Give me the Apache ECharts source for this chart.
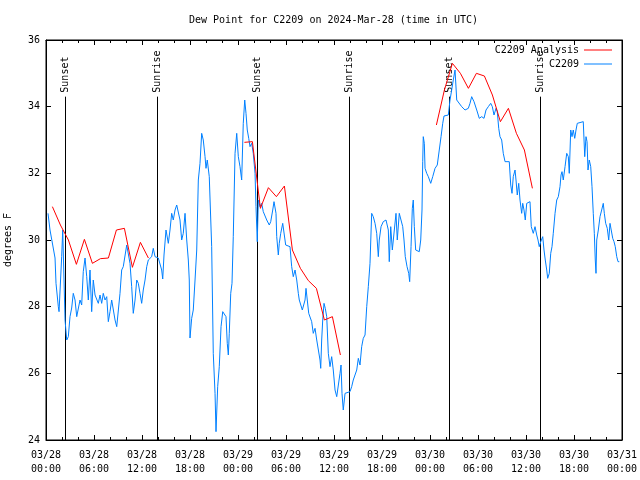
<!DOCTYPE html>
<html><head><meta charset="utf-8">
<script src="https://cdn.jsdelivr.net/npm/echarts@6/dist/echarts.min.js"></script>
<style>html,body{margin:0;padding:0;background:#fff}#c{width:640px;height:480px}</style>
</head><body><div id="c"></div>
<script>
const FONT = 'DejaVu Sans Mono';
const titleText = 'Dew Point for C2209 on 2024-Mar-28 (time in UTC)';
const xTickLabels = ['03/28\n00:00','03/28\n06:00','03/28\n12:00','03/28\n18:00','03/29\n00:00','03/29\n06:00','03/29\n12:00','03/29\n18:00','03/30\n00:00','03/30\n06:00','03/30\n12:00','03/30\n18:00','03/31\n00:00'];

// hours since 2024-03-28 00:00 UTC
const blueHours = [
0.25,0.5,1.13,1.25,1.54,1.63,1.96,2.09,2.25,2.38,
2.59,2.79,3.0,3.21,3.41,3.63,3.84,4.04,4.25,4.46,
4.66,4.88,5.09,5.29,5.5,5.71,5.91,6.13,6.34,6.54,
6.75,6.96,7.16,7.38,7.59,7.79,8.0,8.21,8.41,8.63,
8.84,9.04,9.25,9.46,9.66,9.88,10.09,10.29,10.5,10.71,
10.91,11.13,11.34,11.54,11.75,11.96,12.16,12.38,12.59,12.79,
13.0,13.21,13.41,13.63,14.04,14.25,14.46,14.59,14.75,15.0,
15.29,15.5,15.71,15.91,16.13,16.34,16.54,16.75,16.96,17.16,
17.38,17.59,17.79,17.91,18.0,18.21,18.41,18.63,18.84,19.04,
19.25,19.46,19.66,19.88,20.0,20.16,20.41,20.71,20.91,21.13,
21.25,21.46,21.66,21.88,22.09,22.29,22.5,22.66,22.79,22.91,
23.09,23.25,23.41,23.63,23.84,24.04,24.25,24.46,24.66,24.84,
25.0,25.16,25.34,25.5,25.71,25.91,26.13,26.25,26.41,26.54,
26.75,26.96,27.16,27.59,27.91,28.09,28.34,28.5,28.75,28.84,
29.04,29.16,29.34,29.59,29.79,29.96,30.16,30.5,30.71,30.91,
31.13,31.34,31.54,31.66,31.84,32.04,32.25,32.38,32.5,32.66,
32.84,33.0,33.21,33.41,33.63,33.84,34.04,34.25,34.34,34.46,
34.59,34.75,34.91,35.09,35.29,35.5,35.71,35.91,36.13,36.34,
36.54,36.75,36.88,37.0,37.16,37.38,37.59,38.0,38.21,38.41,
38.63,38.84,39.04,39.25,39.46,39.66,39.88,40.09,40.29,40.5,
40.71,40.91,41.13,41.34,41.54,41.66,41.88,42.16,42.5,42.79,
42.91,43.09,43.29,43.54,43.75,43.91,44.16,44.38,44.59,44.75,
44.91,45.13,45.34,45.46,45.63,45.79,45.91,46.04,46.21,46.41,
46.66,46.84,47.0,47.09,47.16,47.29,47.38,47.59,47.79,48.09,
48.34,48.63,48.91,49.16,49.38,49.59,49.75,50.0,50.29,50.5,
50.71,50.91,51.13,51.34,51.54,51.96,52.38,52.79,53.0,53.21,
53.5,53.84,54.16,54.46,54.75,55.0,55.29,55.59,55.79,56.0,
56.25,56.41,56.59,56.75,56.96,57.16,57.38,57.59,57.91,58.09,
58.25,58.41,58.63,58.75,58.91,59.09,59.25,59.46,59.59,59.75,
59.91,60.09,60.29,60.5,60.66,60.91,61.13,61.34,61.5,61.66,
61.84,62.09,62.25,62.41,62.59,62.71,62.91,63.09,63.25,63.41,
63.63,63.84,64.04,64.25,64.38,64.5,64.66,64.88,65.09,65.29,
65.41,65.59,65.75,65.91,66.09,66.25,66.41,66.66,67.16,67.34,
67.5,67.63,67.75,67.91,68.09,68.25,68.41,68.54,68.66,68.75,
68.84,69.04,69.25,69.46,69.66,69.79,69.96,70.16,70.34,70.5,
70.71,70.84,71.0,71.16,71.34,71.5,71.66
];
const blueValues = [
30.8,30.3,29.46,28.7,28.0,27.85,29.5,30.3,28.8,27.6,
27.0,27.1,27.7,27.96,28.4,28.2,27.7,27.66,28.2,28.05,
29.05,29.46,28.9,28.2,29.1,27.85,28.8,28.35,28.4,28.1,
28.35,28.1,28.4,28.2,28.3,27.55,27.85,28.2,28.15,27.6,
27.4,27.45,28.4,29.1,29.2,29.15,29.85,29.8,29.3,28.6,
27.8,28.2,28.8,28.7,28.4,28.1,28.5,28.8,29.2,29.4,
29.45,29.5,29.75,29.5,29.46,29.46,29.1,28.83,29.55,30.3,
29.9,30.3,30.8,30.6,30.9,31.05,31.1,30.6,30.0,30.2,
30.8,30.0,29.4,28.8,27.06,27.65,27.9,28.8,29.7,31.8,
32.3,33.2,33.0,32.5,32.15,32.4,31.9,29.8,26.6,25.4,
24.25,25.6,26.2,27.4,27.85,27.85,27.7,26.9,26.55,27.2,
28.4,28.7,30.1,32.6,33.2,32.5,32.2,31.8,33.5,34.2,
33.8,33.3,33.05,32.8,32.9,32.6,32.0,31.0,29.95,31.2,
31.0,31.1,30.85,30.6,30.45,30.55,30.9,31.15,30.8,30.1,
29.55,29.9,30.2,30.5,30.5,29.85,29.85,29.8,29.2,28.9,
29.1,28.8,28.4,28.2,28.25,27.9,27.9,28.2,28.55,28.2,
27.8,27.85,27.55,27.2,27.35,27.0,27.0,26.4,26.15,27.0,
27.6,28.1,27.95,27.7,26.6,26.2,26.5,26.1,25.5,25.3,
25.25,26.0,26.25,25.4,24.9,25.4,25.45,25.45,25.6,25.8,
25.8,26.1,26.45,26.25,26.8,27.05,27.15,28.0,28.6,29.3,
30.8,30.7,30.5,30.2,29.5,30.0,30.4,30.55,30.6,30.3,
29.35,30.4,29.7,30.3,30.8,30.0,30.8,30.75,30.4,30.0,
29.5,29.2,29.0,28.75,29.8,30.95,31.2,30.4,29.7,29.65,
29.65,30.0,30.9,32.35,33.1,32.9,32.15,32.0,31.9,31.7,
31.9,32.15,32.25,32.7,33.1,33.5,33.72,33.75,33.75,34.2,
34.5,34.8,35.1,34.2,34.15,34.0,33.9,33.95,34.1,34.3,
34.15,33.9,33.65,33.7,33.65,33.9,34.0,34.1,34.0,33.75,
33.95,33.85,33.35,33.1,33.0,32.6,32.35,32.4,32.35,31.65,
31.4,31.9,32.1,31.8,31.35,31.7,31.2,30.8,31.1,30.9,
30.6,31.1,31.1,31.15,30.4,30.2,30.4,30.15,30.0,29.8,
29.95,30.1,29.7,29.4,29.1,28.85,29.0,29.6,29.8,30.2,
30.8,31.2,31.3,31.6,31.95,32.05,31.8,32.2,32.6,32.5,
32.0,33.3,33.1,33.3,33.05,33.3,33.5,33.55,33.55,32.5,
33.1,32.95,32.1,32.4,32.2,31.6,30.8,30.2,29.4,29.0,
30.0,30.3,30.7,30.9,31.1,30.8,30.5,30.35,30.0,30.5,
30.5,30.05,29.95,29.8,29.5,29.35,29.35
];

// hourly analysis segments: first hour of each segment and its values
const redSegStarts = [0.8, 24.8, 48.8];
const redSeg1 = [31.0,30.45,30.0,29.27,30.02,29.3,29.44,29.46,30.3,30.35,29.18,29.93,29.46];
const redSeg2 = [32.93,32.95,30.95,31.57,31.3,31.62,29.7,29.15,28.78,28.55,27.6,27.7,26.55];
const redSeg3 = [33.45,34.5,35.3,35.0,34.55,35.0,34.92,34.35,33.55,33.95,33.2,32.7,31.55];

const eventHours = [2.375, 13.875, 26.375, 37.875, 50.375, 61.75];
const eventLabels = ['Sunset','Sunrise','Sunset','Sunrise','Sunset','Sunrise'];
const eventLineTop = 34.3;

const RED = '#ff0000', BLUE = '#0080ff';

function seg(start, vals){ return vals.map((v,i)=>[start+i, v]); }
const blueData = blueHours.map((h,i)=>[h, blueValues[i]]);
const redSegs = [redSeg1, redSeg2, redSeg3];

const tickCommon = {
  axisLine:{show:true, onZero:false, lineStyle:{color:'#000', width:1}},
  splitLine:{show:false}
};

const chart = echarts.init(document.getElementById('c'), null, {renderer:'canvas'});
const option = {
  animation:false,
  backgroundColor:'#fff',
  title:{text:titleText, left:189, top:15, padding:0, textStyle:{fontFamily:FONT, fontSize:10, fontWeight:'normal', color:'#000'}},
  legend:{data:['C2209 Analysis','C2209'], orient:'vertical', right:28, top:44, align:'right', icon:'rect',
    itemWidth:28, itemHeight:1, itemGap:2, padding:0,
    textStyle:{fontFamily:FONT, fontSize:10, color:'#000', lineHeight:12}},
  grid:{left:46, right:18, top:40, bottom:40, containLabel:false, outerBoundsMode:'none',
    show:true, borderColor:'#000', borderWidth:1, backgroundColor:'transparent'},
  xAxis:[
    Object.assign({type:'value', min:0, max:72, interval:6, position:'bottom',
      axisTick:{show:true, inside:true, length:5, lineStyle:{color:'#000'}},
      minorTick:{show:true, splitNumber:3, length:3, lineStyle:{color:'#000'}},
      axisLabel:{fontFamily:FONT, fontSize:10, color:'#000', lineHeight:14, margin:8,
        formatter:v=>xTickLabels[Math.round(v/6)]}}, tickCommon),
    Object.assign({type:'value', min:0, max:72, interval:6, position:'top',
      axisTick:{show:true, inside:true, length:5, lineStyle:{color:'#000'}},
      minorTick:{show:true, splitNumber:3, length:3, lineStyle:{color:'#000'}},
      axisLabel:{show:false}}, tickCommon)
  ],
  yAxis:[
    Object.assign({type:'value', min:24, max:36, interval:2, position:'left',
      name:'degrees F', nameLocation:'middle', nameGap:33, nameRotate:90,
      nameTextStyle:{fontFamily:FONT, fontSize:10, color:'#000'},
      axisTick:{show:true, inside:true, length:5, lineStyle:{color:'#000'}},
      axisLabel:{fontFamily:FONT, fontSize:10, color:'#000', margin:6}}, tickCommon),
    Object.assign({type:'value', min:24, max:36, interval:2, position:'right',
      axisTick:{show:true, inside:true, length:5, lineStyle:{color:'#000'}},
      axisLabel:{show:false}}, tickCommon)
  ],
  series:[
    {type:'custom', name:'events', xAxisIndex:0, yAxisIndex:0, z:1, silent:true,
      data:eventHours.map(h=>[h, 24]), encode:{x:0, y:1},
      renderItem:(params, api)=>{
        const b = api.coord([api.value(0), 24]);
        const t = api.coord([api.value(0), eventLineTop]);
        const x = Math.round(b[0]) + 0.5;
        return {type:'group', children:[
          {type:'line', shape:{x1:x, y1:b[1], x2:x, y2:t[1]}, style:{stroke:'#000', lineWidth:1}},
          {type:'text', x:x, y:t[1]-4, rotation:Math.PI/2,
            style:{text:eventLabels[params.dataIndex], font:'10px "DejaVu Sans Mono"', fill:'#000', align:'left', verticalAlign:'middle'}}
        ]};
      }},
    {type:'line', name:'C2209', xAxisIndex:0, yAxisIndex:0, data:blueData, showSymbol:false, symbol:'none',
      color:BLUE, lineStyle:{color:BLUE, width:1}, z:2},
  ].concat(redSegs.map((vals, k)=>({type:'line', name:'C2209 Analysis', xAxisIndex:0, yAxisIndex:0,
      data:seg(redSegStarts[k], vals), showSymbol:false, symbol:'none',
      color:RED, lineStyle:{color:RED, width:1}, z:3})))
};
chart.setOption(option);
</script>
</body></html>
